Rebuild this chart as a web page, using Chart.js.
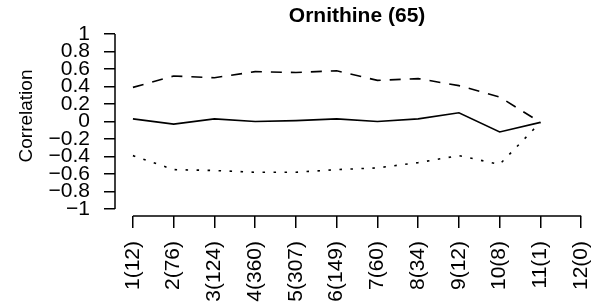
<!DOCTYPE html>
<html>
<head>
<meta charset="utf-8">
<script src="https://cdn.jsdelivr.net/npm/chart.js@4"></script>
<style>
  html, body { margin: 0; padding: 0; background: #fff; overflow: hidden; }
  #wrap { width: 620px; height: 305px; }
</style>
</head>
<body>
<div id="wrap"><canvas id="chart" width="620" height="305"></canvas></div>
<script>
const categories = ['1(12)', '2(76)', '3(124)', '4(360)', '5(307)', '6(149)', '7(60)', '8(34)', '9(12)', '10(8)', '11(1)', '12(0)'];
const upperValues = [0.39, 0.52, 0.50, 0.57, 0.56, 0.58, 0.47, 0.49, 0.41, 0.28, -0.01, null];
const meanValues = [0.03, -0.03, 0.03, 0.00, 0.01, 0.03, 0.00, 0.03, 0.10, -0.12, -0.01, null];
const lowerValues = [-0.39, -0.55, -0.56, -0.58, -0.58, -0.55, -0.53, -0.47, -0.39, -0.49, -0.01, null];
const yTicks = [-1, -0.8, -0.6, -0.4, -0.2, 0, 0.2, 0.4, 0.6, 0.8, 1];
const chartTitle = 'Ornithine (65)';
const yTitle = 'Correlation';

const FONT = '"Liberation Sans", Arial, Helvetica, sans-serif';

function toPoints(values) {
  return values.map((v, i) => ({ x: i + 1, y: v }));
}

function fmt(v) {
  const s = String(Math.round(v * 10) / 10);
  return s.replace('-', '\u2212');
}

// R style axes: lines only span the tick range
const rAxes = {
  id: 'rAxes',
  afterDraw(chart) {
    const { ctx, chartArea, scales } = chart;
    const x = scales.x, y = scales.y;
    ctx.save();
    ctx.strokeStyle = '#000';
    ctx.lineWidth = 1.5;
    ctx.beginPath();
    ctx.moveTo(chartArea.left, y.getPixelForValue(yTicks[yTicks.length - 1]));
    ctx.lineTo(chartArea.left, y.getPixelForValue(yTicks[0]));
    ctx.moveTo(x.getPixelForValue(1), chartArea.bottom);
    ctx.lineTo(x.getPixelForValue(categories.length), chartArea.bottom);
    ctx.stroke();

    ctx.fillStyle = '#000';
    ctx.textAlign = 'center';
    ctx.textBaseline = 'middle';
    ctx.font = 'bold 21px ' + FONT;
    ctx.fillText(chartTitle, (chartArea.left + chartArea.right) / 2, 16);

    ctx.font = '19px ' + FONT;
    ctx.translate(27, 116);
    ctx.rotate(-Math.PI / 2);
    ctx.fillText(yTitle, 0, 0);
    ctx.restore();
  }
};

new Chart(document.getElementById('chart'), {
  type: 'line',
  data: {
    datasets: [
      {
        label: 'upper',
        data: toPoints(upperValues),
        borderColor: '#000',
        borderWidth: 1.6,
        borderDash: [11, 9],
        pointRadius: 0,
        tension: 0,
      },
      {
        label: 'mean',
        data: toPoints(meanValues),
        borderColor: '#000',
        borderWidth: 1.6,
        pointRadius: 0,
        tension: 0,
      },
      {
        label: 'lower',
        data: toPoints(lowerValues),
        borderColor: '#000',
        borderWidth: 1.6,
        borderDash: [2.5, 8.5],
        pointRadius: 0,
        tension: 0,
      },
    ],
  },
  options: {
    responsive: false,
    animation: false,
    layout: { padding: { left: 0, top: 27, right: 17, bottom: 0 } },
    plugins: { legend: { display: false }, tooltip: { enabled: false }, title: { display: false } },
    scales: {
      x: {
        type: 'linear',
        min: 0.56,
        max: 12.44,
        afterBuildTicks: (s) => { s.ticks = categories.map((c, i) => ({ value: i + 1 })); },
        afterFit: (s) => { s.height = 89; },
        border: { display: false },
        grid: { drawOnChartArea: false, drawTicks: true, tickLength: 12, color: '#000', lineWidth: 1.5 },
        ticks: {
          autoSkip: false,
          minRotation: 90,
          maxRotation: 90,
          padding: 13,
          color: '#000',
          font: { family: FONT, size: 21 },
          callback: (v) => categories[Math.round(v) - 1],
        },
      },
      y: {
        type: 'linear',
        min: -1.08,
        max: 1.08,
        afterBuildTicks: (s) => { s.ticks = yTicks.map((v) => ({ value: v })); },
        afterFit: (s) => { s.width = 115; },
        border: { display: false },
        grid: { drawOnChartArea: false, drawTicks: true, tickLength: 11, color: '#000', lineWidth: 1.5 },
        ticks: {
          autoSkip: false,
          padding: 14,
          color: '#000',
          font: { family: FONT, size: 21 },
          callback: (v) => fmt(v),
        },
      },
    },
  },
  plugins: [rAxes],
});
</script>
</body>
</html>
